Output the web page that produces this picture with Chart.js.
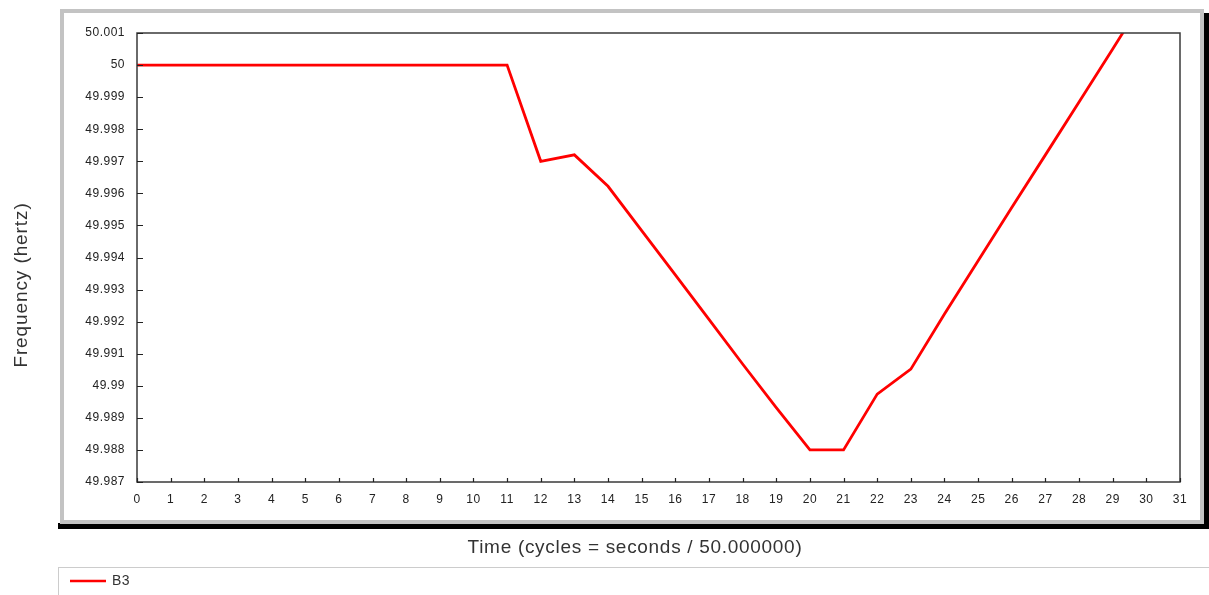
<!DOCTYPE html>
<html>
<head>
<meta charset="utf-8">
<script src="https://cdn.jsdelivr.net/npm/chart.js@4/dist/chart.umd.min.js"></script>
<style>
  html, body { margin: 0; padding: 0; background: #ffffff; }
  #wrap { width: 1209px; height: 595px; position: relative; }
</style>
</head>
<body>
<div id="wrap"><canvas id="c" width="1209" height="595"></canvas></div>
<script>
// ---- data ----
const seriesName = "B3";
const times = [0,1,2,3,4,5,6,7,8,9,10,11,12,13,14,15,16,17,18,19,20,21,22,23,24,25,26,27,28,29,30];
const frequency = [
  50, 50, 50, 50, 50, 50, 50, 50, 50, 50, 50, 50,
  49.99700, 49.99720, 49.99622, 49.99484, 49.99346, 49.99207, 49.99068, 49.98932,
  49.98800, 49.98800, 49.98974, 49.99052, 49.99224, 49.99390, 49.99556, 49.99720,
  49.99885, 50.00050, 50.00218
];
const yTickLabels = ["49.987","49.988","49.989","49.99","49.991","49.992","49.993","49.994",
                     "49.995","49.996","49.997","49.998","49.999","50","50.001"];
const xTickLabels = ["0","1","2","3","4","5","6","7","8","9","10","11","12","13","14","15",
                     "16","17","18","19","20","21","22","23","24","25","26","27","28","29","30","31"];
const xTitle = "Time (cycles = seconds / 50.000000)";
const yTitle = "Frequency (hertz)";

const FONT = "'Liberation Sans', Arial, sans-serif";

const framePlugin = {
  id: 'frame',
  beforeDraw(chart) {
    const ctx = chart.ctx;
    ctx.save();
    ctx.fillStyle = '#ffffff';
    ctx.fillRect(0, 0, chart.width, chart.height);
    // shadow
    ctx.fillStyle = '#000000';
    ctx.fillRect(58, 523, 1151, 6);
    ctx.fillRect(1203, 13, 6, 516);
    // grey panel
    ctx.fillStyle = '#ffffff';
    ctx.fillRect(60, 9, 1144, 515);
    ctx.strokeStyle = '#c3c3c3';
    ctx.lineWidth = 4;
    ctx.strokeRect(62, 11, 1140, 511);
    ctx.restore();
    // letter spacing for the tick labels drawn by the library
    ctx.letterSpacing = '0.5px';
  },
  afterDraw(chart) {
    const ctx = chart.ctx;
    const a = chart.chartArea;
    const xs = chart.scales.x, ys = chart.scales.y;
    ctx.save();
    // plot border
    ctx.strokeStyle = '#3a3a3a';
    ctx.lineWidth = 1.5;
    ctx.strokeRect(a.left, a.top, a.right - a.left, a.bottom - a.top);
    // inward ticks
    ctx.strokeStyle = '#222';
    ctx.lineWidth = 1.2;
    ctx.beginPath();
    xs.ticks.forEach(t => {
      const px = Math.round(xs.getPixelForValue(t.value)) + 0.5;
      ctx.moveTo(px, a.bottom);
      ctx.lineTo(px, a.bottom - 4);
    });
    ys.ticks.forEach(t => {
      const py = Math.round(ys.getPixelForValue(t.value)) + 0.5;
      ctx.moveTo(a.left, py);
      ctx.lineTo(a.left + 6, py);
    });
    ctx.stroke();
    // axis titles
    ctx.fillStyle = '#333333';
    ctx.font = '19px ' + FONT;
    ctx.letterSpacing = '0.7px';
    ctx.textAlign = 'center';
    ctx.textBaseline = 'middle';
    ctx.fillText(xTitle, 635, 548);
    ctx.save();
    ctx.translate(22, 285);
    ctx.rotate(-Math.PI / 2);
    ctx.letterSpacing = '0.9px';
    ctx.fillText(yTitle, 0, 0);
    ctx.restore();
    // legend box
    ctx.strokeStyle = '#cccccc';
    ctx.lineWidth = 1;
    ctx.strokeRect(58.5, 567.5, 1160, 40);
    ctx.strokeStyle = '#ff0000';
    ctx.lineWidth = 2.5;
    ctx.beginPath();
    ctx.moveTo(70, 581);
    ctx.lineTo(106, 581);
    ctx.stroke();
    ctx.fillStyle = '#333333';
    ctx.font = '14px ' + FONT;
    ctx.letterSpacing = '0.5px';
    ctx.textAlign = 'left';
    ctx.fillText(chart.data.datasets[0].label, 112, 581);
    ctx.restore();
  }
};

new Chart(document.getElementById('c'), {
  type: 'line',
  data: {
    labels: times,
    datasets: [{
      label: seriesName,
      data: times.map((t, i) => ({ x: t, y: frequency[i] })),
      borderColor: '#ff0000',
      borderWidth: 2.8,
      pointRadius: 0,
      tension: 0,
      fill: false,
      clip: 0
    }]
  },
  options: {
    responsive: false,
    animation: false,
    events: [],
    layout: { padding: { left: 0, top: 33, right: 29, bottom: 0 } },
    plugins: { legend: { display: false }, tooltip: { enabled: false } },
    scales: {
      x: {
        type: 'linear',
        min: 0, max: 31,
        afterFit(s) { s.height = 113; },
        ticks: {
          stepSize: 1,
          autoSkip: false,
          maxRotation: 0,
          padding: 10,
          color: '#222',
          font: { family: FONT, size: 12 },
          callback: (v) => xTickLabels[Math.round(v)]
        },
        grid: { display: false, drawTicks: false },
        border: { display: false }
      },
      y: {
        type: 'linear',
        min: 49.987, max: 50.001,
        afterFit(s) { s.width = 137; },
        ticks: {
          stepSize: 0.001,
          autoSkip: false,
          padding: 12,
          color: '#222',
          font: { family: FONT, size: 12 },
          callback: (v) => yTickLabels[Math.round((v - 49.987) * 1000)]
        },
        grid: { display: false, drawTicks: false },
        border: { display: false }
      }
    }
  },
  plugins: [framePlugin]
});
</script>
</body>
</html>
